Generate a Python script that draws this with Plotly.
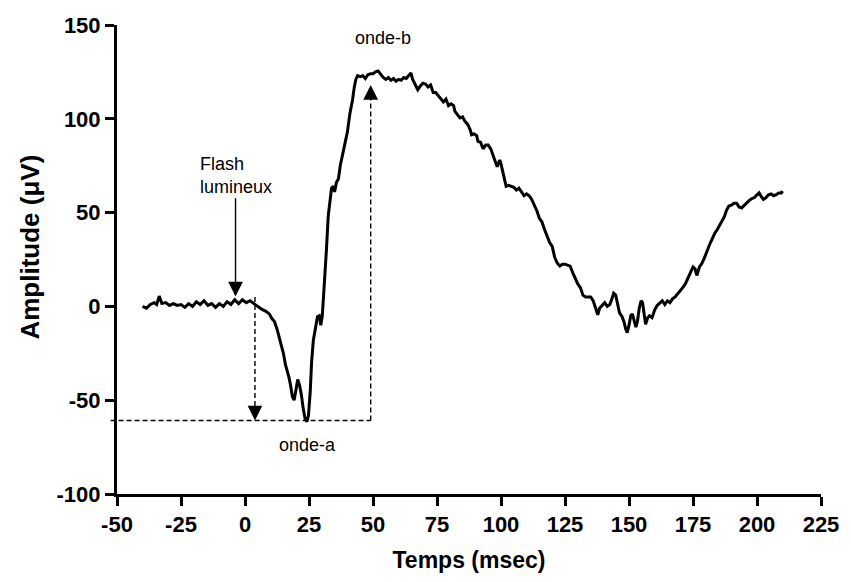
import plotly.graph_objects as go

# ---- data ----
time_ms = [-40, -38.5, -37, -35.5, -34.5, -33.5, -32.5, -31, -29.5, -28, -26.5, -25, -23.5, -22, -20.5, -19,
           -17.5, -16, -14.5, -13, -11.5, -10, -8.5, -7, -5.5, -4, -2.5, -1, 0.5, 2, 3.5, 5,
           6.5, 8, 9.5, 10.5, 11.5, 12.5, 13.5, 14, 15, 15.8, 16.5, 17.2, 17.8, 18.5, 19.2, 19.8, 20.6,
           21.3, 22, 22.8, 23.5, 24.2, 24.8, 25.5, 26, 26.7, 27.5, 28.3, 29, 29.6, 30.2, 31, 31.8, 32.5,
           33.2, 33.8, 34.5, 35, 35.7, 36.5, 37.2, 38, 39, 40, 41, 42, 42.7, 43.3, 44, 45, 46, 47, 48,
           49, 50, 51, 52, 53, 54, 55, 56, 57, 58, 59, 60, 61, 62, 63, 64, 64.8, 65.5, 66.5, 67.5, 68.5,
           69.5, 70.5, 71.5, 72.5, 73.5, 74.5, 75.5, 76.5, 77.5, 78.5, 79.5, 80.5, 81.5, 82, 83, 84, 85,
           86, 87, 88, 88.5, 89.5, 90.5, 91, 92, 93, 94, 95, 96, 97, 98, 98.5, 99.5, 100, 101, 102, 103,
           104, 105, 106, 107, 108, 109, 110, 111, 112, 113, 114, 115, 116, 117, 118, 119, 120, 121, 122,
           123, 124, 125, 126, 127, 128, 129, 130, 131, 132, 133, 134, 135, 136, 137, 137.8, 138.5, 139.5,
           140.5, 141.5, 142.5, 143.3, 144, 144.8, 145.5, 146.3, 147.3, 148, 148.7, 149.3, 150, 150.7,
           151.3, 152, 152.7, 153.3, 154, 154.7, 155.3, 156, 156.5, 157.3, 158, 159, 160, 161, 162, 163,
           164, 165, 166, 167, 168, 169, 170, 171, 172, 173, 174, 175, 175.8, 176.5, 177.5, 178.5, 179.5,
           180.5, 181.5, 182.5, 183.5, 184.5, 185.5, 186.5, 187.3, 188, 189, 190, 191, 192, 193, 194, 195,
           196, 197, 198, 199, 200, 200.8, 201.7, 202.5, 203.5, 204.5, 205.5, 206.5, 207.5, 208.5, 209.5, 210]
amplitude_uv = [0, -1, 1, 2, 1, 5.5, 1.5, 2, 0.5, 1.5, 0.5, 1, -0.5, 1.5, 0, 2.5,
                1, 3, 0.5, 1.5, -0.5, 1.5, 0, 2.5, 1, 3.5, 1.5, 3.5, 2, 3, 1.5, 0,
                -1.5, -2.5, -4, -6.5, -8, -12, -17, -21, -25, -31, -34, -38, -42, -48, -50, -46, -39,
                -42, -47, -55, -60, -61.5, -58, -45, -30, -18, -11, -5.5, -5, -10, -5, 10, 30, 48,
                58, 63, 64, 61, 66, 68, 75, 80, 86, 93, 103, 110, 117, 121, 123, 122.5, 123, 121.5, 123.5,
                124, 124, 125, 125.5, 123.5, 122, 121, 122, 120.5, 121.5, 120, 121, 120.5, 122, 121.5, 123, 124.5, 121, 118, 115.5, 117.5,
                119, 118.5, 117, 118, 114, 114, 112.5, 111, 109, 110.5, 107, 108, 107, 104, 102, 100.5, 101,
                98.5, 97, 94, 91.5, 92, 91, 88, 87.5, 84, 86, 86, 84, 80, 76, 74.5, 78, 76, 70, 64, 64.5,
                64, 63.5, 62, 63, 61, 59, 60, 59, 57, 54, 51, 47, 45, 41, 37, 34, 32, 26, 23,
                21.5, 22.5, 22.5, 22, 21.5, 18, 15, 12, 10, 6, 5, 5, 5, 3, -1, -4.5, -1, 0.5,
                2, 0, 1, 4, 7, 6, 1, -3.5, -5.5, -8, -12, -14, -10, -5,
                -4, -8, -11, -8, -1, 3, 2, -5, -9.5, -6, -5, -6, -2, 0.5, 2, 3,
                1, 3, 2, 4, 5, 6.5, 8, 10, 12, 15, 18, 21, 20, 16.5, 21, 23, 26,
                30, 33, 36, 39, 41, 43.5, 46, 48, 51, 53.5, 54, 55, 55, 53, 52.5, 54,
                55, 56.5, 57.5, 58, 59.5, 60.5, 58.5, 57, 58, 59.5, 60, 59, 59.5, 60.5, 60.5, 61.5]

x_range = [-50, 225]
y_range = [-100, 150]
x_ticks = [-50, -25, 0, 25, 50, 75, 100, 125, 150, 175, 200, 225]
x_tick_labels = ["-50", "-25", "0", "25", "50", "75", "100", "125", "150", "175", "200", "225"]
y_ticks = [-100, -50, 0, 50, 100, 150]
y_tick_labels = ["-100", "-50", "0", "50", "100", "150"]

# annotation anchors (data units)
flash_t, flash_top, flash_tip = -3.7, 58.5, 5.3
a_t, a_start, a_tip = 3.9, 5, -60.8
b_t, b_tip = 49.1, 118
trough_y = -60.8
left_ext = -52.5

FONT = "Arial, Liberation Sans, sans-serif"


def px(v):
    return (v - x_range[0]) / (x_range[1] - x_range[0])


fig = go.Figure()
fig.add_trace(go.Scatter(x=time_ms, y=amplitude_uv, mode="lines",
                         line=dict(color="black", width=3), showlegend=False))

dash = "5px,3px"
shapes = [
    dict(type="line", xref="paper", yref="y", x0=px(left_ext), x1=px(b_t), y0=trough_y, y1=trough_y,
         line=dict(color="black", width=1.4, dash=dash)),
    dict(type="line", xref="x", yref="y", x0=a_t, x1=a_t, y0=a_start, y1=a_tip + 6,
         line=dict(color="black", width=1.4, dash=dash)),
    dict(type="line", xref="x", yref="y", x0=b_t, x1=b_t, y0=trough_y, y1=b_tip - 6,
         line=dict(color="black", width=1.4, dash=dash)),
]

ann_font = dict(family=FONT, size=18, color="black")
annotations = [
    dict(x=a_t, y=a_tip, xref="x", yref="y", ax=0, ay=-16, text="", showarrow=True,
         arrowhead=2, arrowsize=2.1, arrowwidth=1.4, arrowcolor="black"),
    dict(x=b_t, y=b_tip, xref="x", yref="y", ax=0, ay=16, text="", showarrow=True,
         arrowhead=2, arrowsize=2.1, arrowwidth=1.4, arrowcolor="black"),
    dict(x=flash_t, y=flash_tip, xref="x", yref="y", ax=flash_t, ay=flash_top, axref="x", ayref="y",
         text="", showarrow=True, arrowhead=2, arrowsize=2.1, arrowwidth=1.4, arrowcolor="black"),
    dict(x=-3.7, y=69.6, xref="x", yref="y", text="Flash<br>lumineux", showarrow=False, align="left",
         font=ann_font),
    dict(x=53.8, y=143, xref="x", yref="y", text="onde-b", showarrow=False, font=ann_font),
    dict(x=24.4, y=-74, xref="x", yref="y", text="onde-a", showarrow=False, font=ann_font),
    dict(x=-0.124, y=0.527, xref="paper", yref="paper", text="Amplitude (μV)", textangle=-90,
         showarrow=False, xanchor="center", yanchor="middle",
         font=dict(family=FONT, size=26, color="black", weight="bold")),
]

axis_common = dict(showgrid=False, zeroline=False, showline=True, linecolor="black", linewidth=3,
                   ticks="outside", ticklen=9, tickwidth=3, tickcolor="black",
                   tickfont=dict(family=FONT, size=22, color="black", weight="bold"))

fig.update_layout(
    width=851, height=582,
    margin=dict(l=117, r=23, t=25, b=86),
    paper_bgcolor="white", plot_bgcolor="white",
    shapes=shapes, annotations=annotations,
    xaxis=dict(range=x_range, tickvals=x_ticks, ticktext=x_tick_labels, **axis_common,
               title=dict(text="Temps (msec)", standoff=16,
                          font=dict(family=FONT, size=23, color="black", weight="bold"))),
    yaxis=dict(range=y_range, tickvals=y_ticks, ticktext=y_tick_labels, **axis_common),
)

fig.write_html("out.html")
